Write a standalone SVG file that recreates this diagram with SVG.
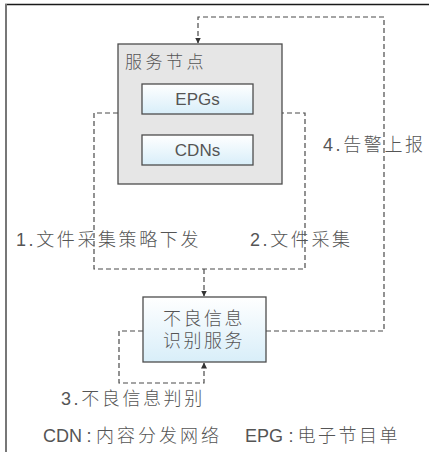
<svg xmlns="http://www.w3.org/2000/svg" width="429" height="452" viewBox="0 0 429 452">
<style>
text{font-family:"Liberation Sans","Noto Sans CJK SC",sans-serif;fill:#555;font-weight:300}
.lbl{font-size:18px;letter-spacing:2.6px}
.box{stroke:#4d4d4d;stroke-width:1.3}
.conn{fill:none;stroke:#4a4a4a;stroke-width:1.2;stroke-dasharray:5 3}
</style>
<defs>
<linearGradient id="blue" x1="0" y1="0" x2="0" y2="1">
<stop offset="0" stop-color="#ffffff"/>
<stop offset="1" stop-color="#d8eef9"/>
</linearGradient>
<marker id="arr" markerWidth="6" markerHeight="6" refX="5.5" refY="3" orient="auto" markerUnits="userSpaceOnUse">
<path d="M0,0 L6,3 L0,6 z" fill="#333"/>
</marker>
</defs>
<rect width="429" height="452" fill="#fff"/>
<line x1="5" y1="4.5" x2="429" y2="4.5" stroke="#1a1a1a" stroke-width="1.5"/>
<line x1="6" y1="4" x2="6" y2="452" stroke="#777" stroke-width="2"/>
<g id="connectors">
<path class="conn" d="M266,331 H384 V17 H198 V43" marker-end="url(#arr)"/>
<path class="conn" d="M118,113 H94 V269 H305 V113 H282"/>
<path class="conn" d="M204,269 V296" marker-end="url(#arr)"/>
<path class="conn" d="M143,331 H119 V383 H204 V363" marker-end="url(#arr)"/>
</g>
<g id="service-node">
<rect class="box" x="118" y="44" width="164" height="140" fill="#e6e6e6"/>
<text x="125" y="68" font-size="17" letter-spacing="3.5">服务节点</text>
</g>
<g id="epgs">
<rect class="box" x="142" y="84" width="111" height="30" fill="url(#blue)"/>
<text x="197.5" y="105" font-size="17" text-anchor="middle">EPGs</text>
</g>
<g id="cdns">
<rect class="box" x="142" y="135" width="111" height="30" fill="url(#blue)"/>
<text x="197.5" y="156" font-size="17" text-anchor="middle">CDNs</text>
</g>
<g id="bad-info-service">
<rect class="box" x="143" y="297" width="123" height="65" fill="url(#blue)"/>
<text x="163" y="325" font-size="18" letter-spacing="2.5">不良信息</text>
<text x="163" y="347" font-size="18" letter-spacing="2.5">识别服务</text>
</g>
<g id="labels">
<text class="lbl" x="16" y="246">1.文件采集策略下发</text>
<text class="lbl" x="250" y="246">2.文件采集</text>
<text class="lbl" x="323" y="151">4.告警上报</text>
<text class="lbl" x="61" y="405">3.不良信息判别</text>
<text font-size="18" y="442"><tspan x="43">CDN</tspan><tspan x="86.5">:</tspan><tspan x="96" letter-spacing="3">内容分发网络</tspan></text>
<text font-size="18" y="442"><tspan x="245">EPG</tspan><tspan x="288.5">:</tspan><tspan x="297.5" letter-spacing="2.5">电子节目单</tspan></text>
</g>
</svg>
